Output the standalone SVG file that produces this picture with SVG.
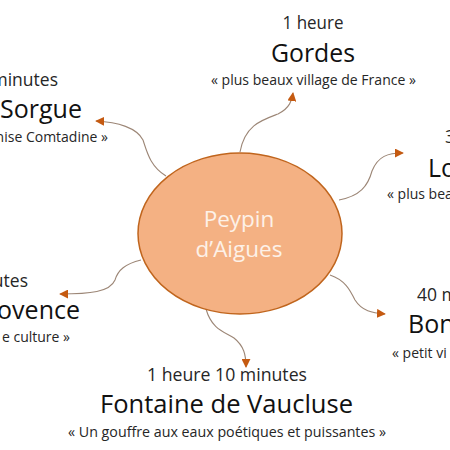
<svg xmlns="http://www.w3.org/2000/svg" width="450" height="450" viewBox="0 0 450 450">
<style>
.t{font-family:"Open Sans","Noto Sans","DejaVu Sans",sans-serif;fill:#262626}
.time{font-size:17.5px}
.name{font-size:25px;fill:#111}
.quote{font-size:14px}
.mid{text-anchor:middle}
.end{text-anchor:end}
.conn{fill:none;stroke:#9c8676;stroke-width:1.1}
</style>
<defs>
<marker id="arr" viewBox="0 0 10 10" refX="9" refY="5" markerWidth="9" markerHeight="9" markerUnits="userSpaceOnUse" orient="auto">
<path d="M0,0 L10,5 L0,10 Z" fill="#c55a11"/>
</marker>
</defs>
<rect width="450" height="450" fill="#fff"/>
<g id="connectors">
<path class="conn" marker-end="url(#arr)" d="M240,152 C245,125 262,120 278,114 C290,108 292,100 293,93"/>
<path class="conn" marker-end="url(#arr)" d="M166,176 C150,166 147,152 143,140 C137,128 118,122 96,121"/>
<path class="conn" marker-end="url(#arr)" d="M339,200 C360,196 368,186 372,171 C378,156 388,153 403,153"/>
<path class="conn" marker-end="url(#arr)" d="M141,260 C125,264 118,270 115,280 C110,292 90,294 60,294"/>
<path class="conn" marker-end="url(#arr)" d="M330,275 C345,280 350,290 355,300 C362,311 372,313 385,314"/>
<path class="conn" marker-end="url(#arr)" d="M206,309 C212,330 225,332 234,338 C244,346 246,355 246,367"/>
</g>
<g id="center">
<ellipse cx="240" cy="233.5" rx="102" ry="80.5" fill="#f4b183" stroke="#c0651d" stroke-width="1.5"/>
<text class="t mid" x="239" y="227" font-size="22.5" fill="#fdf1e8" style="fill:#fdf1e8">Peypin</text>
<text class="t mid" x="239" y="257" font-size="22.5" fill="#fdf1e8" style="fill:#fdf1e8">d’Aigues</text>
</g>
<g id="gordes">
<text class="t time mid" x="313" y="29" textLength="61" lengthAdjust="spacingAndGlyphs">1 heure</text>
<text class="t name mid" x="313" y="62" textLength="84" lengthAdjust="spacingAndGlyphs">Gordes</text>
<text class="t quote mid" x="313.5" y="85" textLength="205" lengthAdjust="spacingAndGlyphs">« plus beaux village de France »</text>
</g>
<g id="sorgue">
<text class="t time end" x="58" y="86">minutes</text>
<text class="t name end" x="82" y="118">Sorgue</text>
<text class="t quote end" x="108" y="142">nise Comtadine »</text>
</g>
<g id="lourmarin">
<text class="t time" x="445" y="143">3</text>
<text class="t name" x="428" y="177">Lo</text>
<text class="t quote" x="387" y="199">« plus bea</text>
</g>
<g id="provence">
<text class="t time end" x="28" y="287">utes</text>
<text class="t name end" x="80" y="319">ovence</text>
<text class="t quote end" x="70" y="342">e culture »</text>
</g>
<g id="bonnieux">
<text class="t time" x="417" y="301">40 m</text>
<text class="t name" x="408" y="333">Bon</text>
<text class="t quote" x="392" y="358">« petit vi</text>
</g>
<g id="fontaine">
<text class="t time mid" x="227" y="381" textLength="160" lengthAdjust="spacingAndGlyphs">1 heure 10 minutes</text>
<text class="t name mid" x="226.5" y="413" textLength="253" lengthAdjust="spacingAndGlyphs">Fontaine de Vaucluse</text>
<text class="t quote mid" x="227" y="437" textLength="318" lengthAdjust="spacingAndGlyphs">« Un gouffre aux eaux poétiques et puissantes »</text>
</g>
</svg>
